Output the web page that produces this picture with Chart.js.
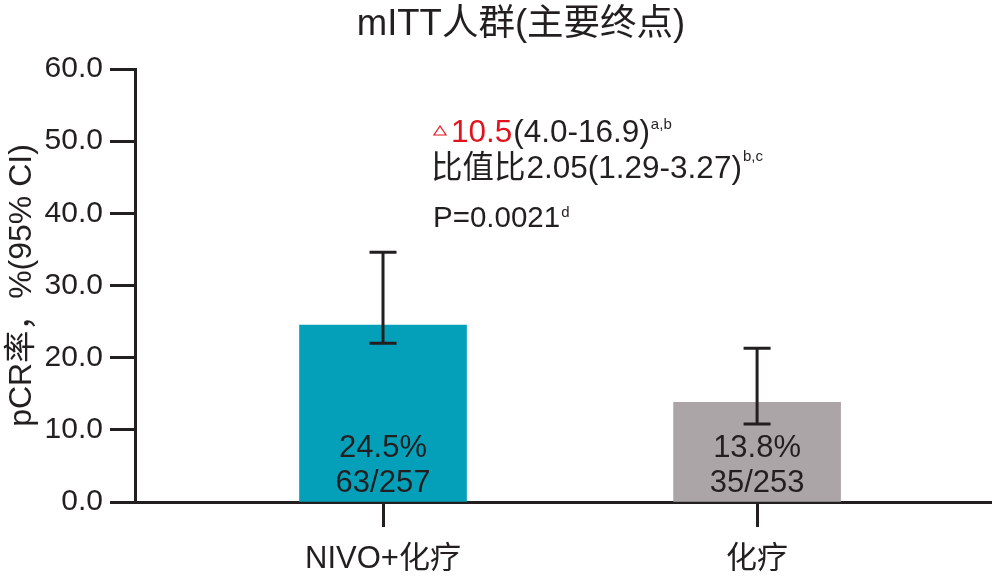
<!DOCTYPE html>
<html>
<head>
<meta charset="utf-8">
<script src="https://cdn.jsdelivr.net/npm/chart.js@4"></script>
<style>
  html, body { margin: 0; padding: 0; background: #fff; }
  #wrap { width: 992px; height: 576px; position: relative; }
</style>
</head>
<body>
<div id="wrap"><canvas id="pcrChart"></canvas></div>
<script>
// chart data
const categories = ['NIVO+化疗', '化疗'];
const pcrRates = [24.5, 13.8];
const ciLow = [22.0, 10.8];
const ciHigh = [34.6, 21.3];
const responders = ['63/257', '35/253'];
const yTicks = [0, 10, 20, 30, 40, 50, 60];

const barColors = ['#04a0b9', '#aca5a8'];
const ink = '#231f20';
const red = '#e0141e';
const fontFamily = 'Arial, "Liberation Sans", "Noto Sans CJK SC", sans-serif';

// draw a row of [text, size, color, dy] pieces, left to right
function drawRun(ctx, x, y, parts) {
    parts.forEach(([txt, size, color, dy]) => {
        ctx.font = size + 'px ' + fontFamily;
        ctx.fillStyle = color;
        ctx.fillText(txt, x, y + (dy || 0));
        x += ctx.measureText(txt).width + (dy ? 0 : 1);
    });
    return x;
}

// error bars, in-bar labels, title and stats text
const overlayPlugin = {
    id: 'overlay',
    afterDatasetsDraw(chart) {
        const { ctx, scales: { x, y } } = chart;
        ctx.save();

        // error bars
        ctx.strokeStyle = ink;
        ctx.lineWidth = 3;
        pcrRates.forEach((v, i) => {
            const px = x.getPixelForValue(i);
            const top = y.getPixelForValue(ciHigh[i]);
            const bot = y.getPixelForValue(ciLow[i]);
            ctx.beginPath();
            ctx.moveTo(px, top); ctx.lineTo(px, bot);
            ctx.moveTo(px - 13.5, top); ctx.lineTo(px + 13.5, top);
            ctx.moveTo(px - 13.5, bot); ctx.lineTo(px + 13.5, bot);
            ctx.stroke();
        });

        // labels inside bars
        ctx.fillStyle = ink;
        ctx.textAlign = 'center';
        ctx.textBaseline = 'alphabetic';
        ctx.font = '31px ' + fontFamily;
        pcrRates.forEach((v, i) => {
            const px = x.getPixelForValue(i);
            ctx.fillText(v.toFixed(1) + '%', px, 457);
            ctx.fillText(responders[i], px, 492);
        });

        // title
        ctx.font = '36.5px ' + fontFamily;
        ctx.fillText('mITT人群(主要终点)', 521, 35);

        // stats annotation
        ctx.textAlign = 'left';
        ctx.strokeStyle = red;
        ctx.lineWidth = 1.2;
        ctx.beginPath();
        ctx.moveTo(440, 126); ctx.lineTo(446, 135); ctx.lineTo(434, 135); ctx.closePath();
        ctx.stroke();

        drawRun(ctx, 451, 142, [
            ['10.5', 31.5, red],
            ['(4.0-16.9)', 31.5, ink],
            ['a,b', 15, ink, -13]
        ]);
        drawRun(ctx, 431, 178, [
            ['比值比', 31.5, ink],
            ['2.05(1.29-3.27)', 31.5, ink],
            ['b,c', 15, ink, -17]
        ]);
        drawRun(ctx, 433, 227, [
            ['P=0.0021', 29.5, ink],
            ['d', 15, ink, -10]
        ]);

        ctx.restore();
    }
};

new Chart(document.getElementById('pcrChart'), {
    type: 'bar',
    data: {
        datasets: [{
            data: pcrRates.map((v, i) => ({ x: i, y: v })),
            backgroundColor: barColors,
            barThickness: 167,
            borderWidth: 0
        }]
    },
    options: {
        responsive: true,
        maintainAspectRatio: false,
        animation: false,
        devicePixelRatio: 1,
        layout: { padding: { top: 69, right: 0, bottom: 0, left: 0 } },
        plugins: {
            legend: { display: false },
            tooltip: { enabled: false },
            title: { display: false }
        },
        scales: {
            x: {
                type: 'linear',
                offset: false,
                min: -0.663,
                max: 1.628,
                afterBuildTicks(scale) {
                    scale.ticks = categories.map((c, i) => ({ value: i }));
                },
                afterFit(scale) { scale.height = 74; },
                ticks: {
                    callback: (val) => categories[val],
                    color: ink,
                    font: { size: 31, family: fontFamily },
                    padding: 14,
                    maxRotation: 0,
                    autoSkip: false
                },
                grid: {
                    offset: false,
                    drawOnChartArea: false,
                    tickLength: 25,
                    tickColor: ink,
                    tickWidth: 3
                },
                border: { color: ink, width: 3 }
            },
            y: {
                min: 0,
                max: 60,
                afterBuildTicks(scale) {
                    scale.ticks = yTicks.map(v => ({ value: v }));
                },
                afterFit(scale) { scale.width = 135; },
                ticks: {
                    callback: (val) => val.toFixed(1),
                    color: ink,
                    font: { size: 30, family: fontFamily },
                    padding: 7
                },
                grid: {
                    drawOnChartArea: false,
                    tickLength: 25,
                    tickColor: ink,
                    tickWidth: 3
                },
                border: { color: ink, width: 3 },
                title: {
                    display: true,
                    text: 'pCR率，%(95% CI)',
                    color: ink,
                    font: { size: 32, family: fontFamily },
                    padding: { top: 3, bottom: 0 }
                }
            }
        }
    },
    plugins: [overlayPlugin]
});
</script>
</body>
</html>
